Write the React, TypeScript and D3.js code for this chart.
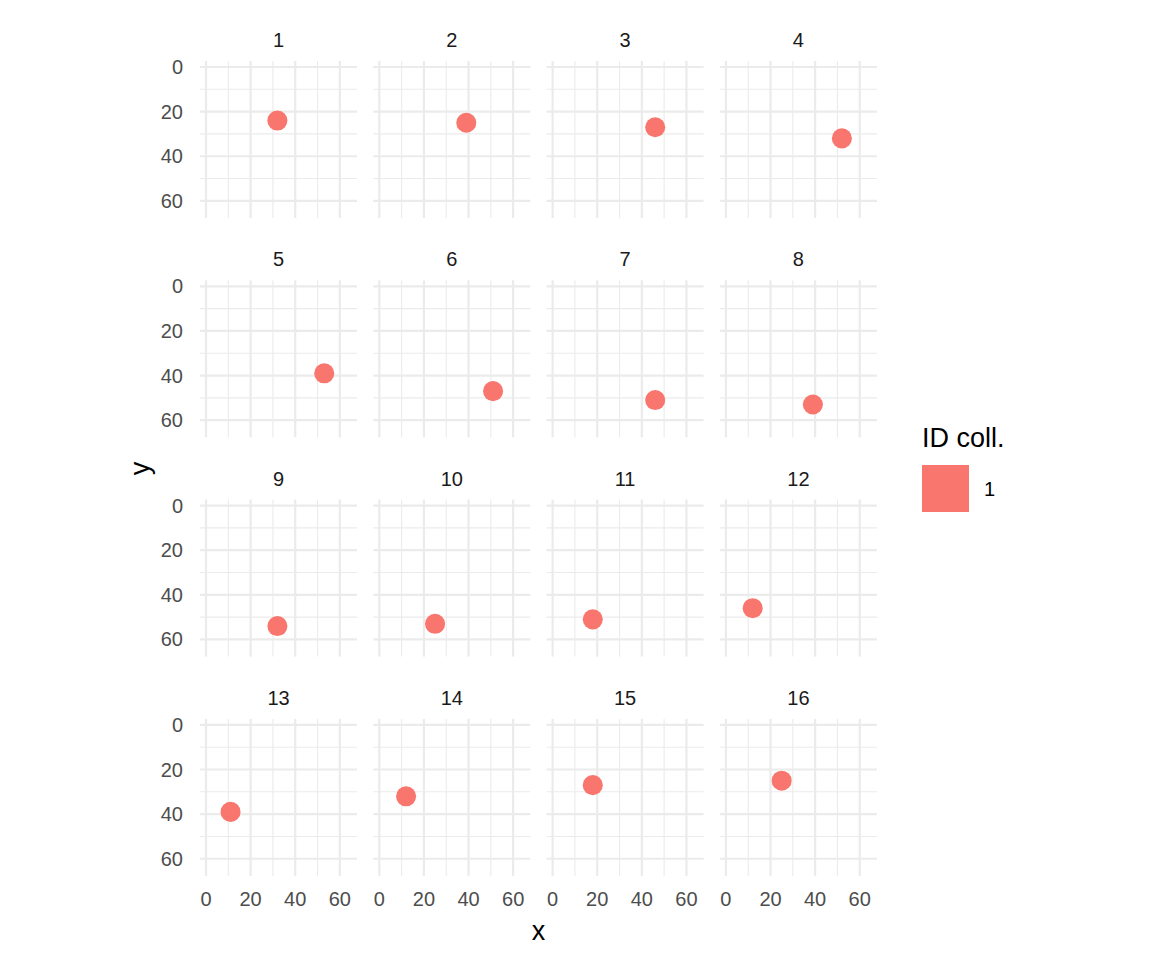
import React from 'react';
import * as d3 from 'd3';

// one frame per facet: centre of the blob (raster cells)
const frames = ['1', '2', '3', '4', '5', '6', '7', '8', '9', '10', '11', '12', '13', '14', '15', '16'];
const blobX = [32, 39, 46, 52, 53, 51, 46, 39, 32, 25, 18, 12, 11, 12, 18, 25];
const blobY = [24, 25, 27, 32, 39, 47, 51, 53, 54, 53, 51, 46, 39, 32, 27, 25];
const blobRadius = 4.5;
const majorTicks = [0, 20, 40, 60];
const minorTicks = [10, 30, 50];
const legendTitle = 'ID coll.';
const legendLabels = ['1'];
const fillColor = '#F8766D';

const W = 1152;
const H = 960;
const P = 157; // panel size
const left0 = 200;
const top0 = 61;
const colStep = 173.3;
const rowStep = 219.3;
const nCol = 4;

const App: React.FC = () => {
  const x = d3.scaleLinear().domain([-2.7, 67.7]).range([0, P]);
  const y = d3.scaleLinear().domain([-2.7, 67.7]).range([0, P]); // reversed y: 0 at top

  const grid = '#EBEBEB';
  const tickCol = '#4D4D4D';
  const font = 'Liberation Sans, Arial, sans-serif';
  const nRow = Math.ceil(frames.length / nCol);

  return (
    <svg width={W} height={H} style={{ display: 'block', position: 'absolute', left: 0, top: 0 }} fontFamily={font}>
      <rect width={W} height={H} fill="#fff" />
      {frames.map((f, i) => {
        const c = i % nCol;
        const r = Math.floor(i / nCol);
        const tx = left0 + c * colStep;
        const ty = top0 + r * rowStep;
        return (
          <g key={f} transform={`translate(${tx},${ty})`}>
            {minorTicks.map((t) => (
              <g key={'m' + t}>
                <line x1={0} x2={P} y1={y(t)} y2={y(t)} stroke={grid} strokeWidth={1.1} />
                <line y1={0} y2={P} x1={x(t)} x2={x(t)} stroke={grid} strokeWidth={1.1} />
              </g>
            ))}
            {majorTicks.map((t) => (
              <g key={'M' + t}>
                <line x1={0} x2={P} y1={y(t)} y2={y(t)} stroke={grid} strokeWidth={2.2} />
                <line y1={0} y2={P} x1={x(t)} x2={x(t)} stroke={grid} strokeWidth={2.2} />
              </g>
            ))}
            <circle cx={x(blobX[i])} cy={y(blobY[i])} r={x(blobRadius) - x(0)} fill={fillColor} />
            <text x={P / 2} y={-21} textAnchor="middle" dominantBaseline="central" fontSize={20} fill="#1A1A1A">
              {f}
            </text>
            {c === 0 &&
              majorTicks.map((t) => (
                <text key={'yl' + t} x={-17} y={y(t)} textAnchor="end" dominantBaseline="central" fontSize={20} fill={tickCol}>
                  {t}
                </text>
              ))}
            {r === nRow - 1 &&
              majorTicks.map((t) => (
                <text key={'xl' + t} x={x(t)} y={P + 23} textAnchor="middle" dominantBaseline="central" fontSize={20} fill={tickCol}>
                  {t}
                </text>
              ))}
          </g>
        );
      })}
      <text x={left0 + ((nCol - 1) * colStep + P) / 2} y={940} textAnchor="middle" fontSize={27} fill="#000">
        x
      </text>
      <text
        transform={`translate(149,${top0 + ((nRow - 1) * rowStep + P) / 2}) rotate(-90)`}
        textAnchor="middle"
        fontSize={27}
        fill="#000"
      >
        y
      </text>
      <text x={922} y={447} fontSize={27} fill="#000">
        {legendTitle}
      </text>
      {legendLabels.map((l, k) => (
        <g key={l} transform={`translate(922,${465 + k * 47})`}>
          <rect width={47} height={47} fill={fillColor} />
          <text x={62} y={24} dominantBaseline="central" fontSize={20} fill="#000">
            {l}
          </text>
        </g>
      ))}
    </svg>
  );
};

export default App;
